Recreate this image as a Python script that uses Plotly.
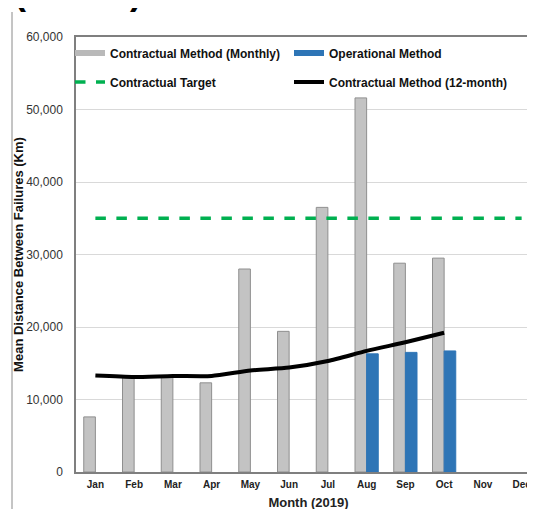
import plotly.graph_objects as go

months = ["Jan", "Feb", "Mar", "Apr", "May", "Jun", "Jul", "Aug", "Sep", "Oct", "Nov", "Dec"]
contractual_monthly = [7600, 13100, 13200, 12300, 28000, 19400, 36500, 51600, 28800, 29500, None, None]
operational = [None, None, None, None, None, None, None, 16300, 16500, 16700, None, None]
contractual_12m = [13300, 13100, 13250, 13250, 14000, 14400, 15300, 16700, 17900, 19200, None, None]
target = [35000] * 12
y_ticks = [0, 10000, 20000, 30000, 40000, 50000, 60000]
y_tick_text = ["0", "10,000", "20,000", "30,000", "40,000", "50,000", "60,000"]

FONT = "Liberation Sans, Arial, sans-serif"
GRAY_FILL = "#c3c3c3"
GRAY_EDGE = "#8f8f8f"
BLUE = "#2e75b6"
GREEN = "#00b050"

# page body has an 8px margin: figure coords = screen coords - 8
OFF = 8
L, T, W, H = 68, 29, 465, 435
FIG_W, FIG_H = 535, 509


def px_x(x):
    return (x - OFF - L) / W


def px_y(y):
    return (T + H - (y - OFF)) / H


fig = go.Figure()
fig.add_trace(go.Bar(
    x=months, y=contractual_monthly, name="Contractual Method (Monthly)",
    marker=dict(color=GRAY_FILL, line=dict(color=GRAY_EDGE, width=1)),
    showlegend=False,
))
fig.add_trace(go.Bar(
    x=months, y=operational, name="Operational Method",
    marker=dict(color=BLUE, line=dict(color=BLUE, width=1)),
    showlegend=False,
))
fig.add_trace(go.Scatter(
    x=months, y=target, name="Contractual Target", mode="lines",
    line=dict(color=GREEN, width=3.5, dash="dash"),
    legend="legend3",
))
fig.add_trace(go.Scatter(
    x=months, y=contractual_12m, name="Contractual Method (12-month)", mode="lines",
    line=dict(color="#000000", width=4, shape="spline", smoothing=0.6),
    legend="legend4",
))
# legend keys for the bar series (wide patches as in the reference)
fig.add_trace(go.Scatter(
    x=[months[0]], y=[None], name="Contractual Method (Monthly)", mode="lines",
    line=dict(color="#b9b9b9", width=6), legend="legend", hoverinfo="skip",
))
fig.add_trace(go.Scatter(
    x=[months[0]], y=[None], name="Operational Method", mode="lines",
    line=dict(color=BLUE, width=6), legend="legend2", hoverinfo="skip",
))

legend_common = dict(
    orientation="h", xanchor="left", yanchor="middle",
    font=dict(family=FONT, size=12, color="#111", weight="bold"),
    bgcolor="rgba(0,0,0,0)", itemwidth=30,
)

fig.update_layout(
    width=FIG_W, height=FIG_H,
    margin=dict(l=L, r=FIG_W - L - W, t=T, b=FIG_H - T - H, autoexpand=False),
    paper_bgcolor="white", plot_bgcolor="white",
    barmode="group", bargap=0.4, bargroupgap=0,
    showlegend=True,
    legend=dict(x=px_x(111 - 41), y=px_y(53), **legend_common),
    legend2=dict(x=px_x(330 - 41), y=px_y(53), **legend_common),
    legend3=dict(x=px_x(111 - 41), y=px_y(82), **legend_common),
    legend4=dict(x=px_x(330 - 41), y=px_y(82), **legend_common),
    xaxis=dict(
        range=[-0.5, 11.5], type="category", automargin=False,
        showline=True, linecolor="#7f7f7f", linewidth=1.5, mirror=True,
        showgrid=False, ticks="", ticklabelstandoff=2,
        tickfont=dict(family=FONT, size=10, color="#222", weight="bold"),
        title=dict(text="Month (2019)", font=dict(family=FONT, size=13, color="#222", weight="bold"), standoff=9),
    ),
    yaxis=dict(
        range=[0, 60000], tickvals=y_ticks, ticktext=y_tick_text, automargin=False,
        showline=True, linecolor="#7f7f7f", linewidth=1.5,
        showgrid=True, gridcolor="#d9d9d9", gridwidth=1,
        zeroline=False, ticks="", ticklabelstandoff=9,
        tickfont=dict(family=FONT, size=12, color="#333"),
        title=dict(text="Mean Distance Between Failures (Km)", font=dict(family=FONT, size=13, color="#111", weight="bold"), standoff=0),
    ),
    shapes=[dict(
        type="line", xref="paper", yref="paper",
        x0=px_x(12), x1=px_x(12),
        y0=px_y(12), y1=px_y(520),
        line=dict(color="#8a8a8a", width=1),
    )],
    annotations=[dict(
        xref="paper", yref="paper", x=px_x(12), y=px_y(14),
        xanchor="left", yanchor="bottom", showarrow=False,
        text="(MDBF)", font=dict(family=FONT, size=36, color="#000", weight="bold"),
    )],
)

fig.write_html("out.html")
